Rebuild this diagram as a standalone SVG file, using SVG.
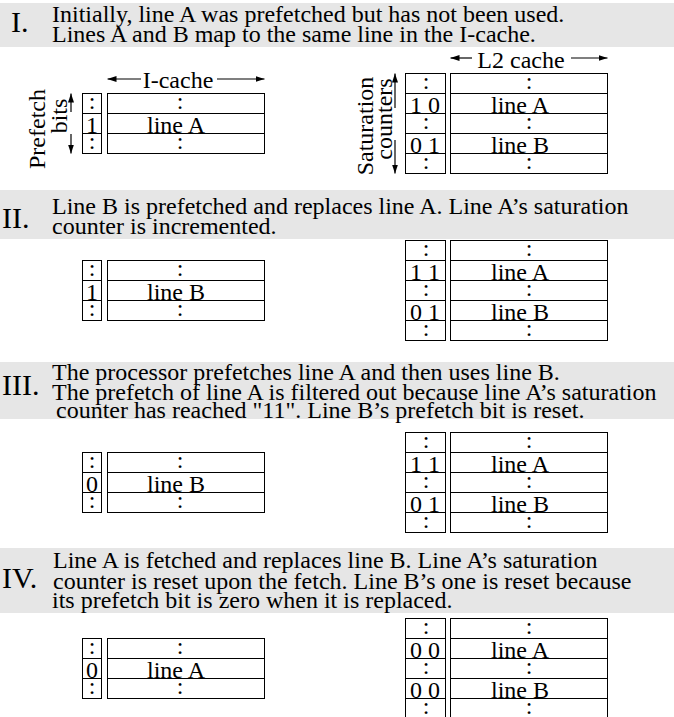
<svg xmlns="http://www.w3.org/2000/svg" width="674" height="717" viewBox="0 0 674 717">
<style>
text{font-family:"Liberation Serif","Times New Roman",serif;fill:#000}
.t{font-size:24px}
.n{font-size:30px}
.m{text-anchor:middle}
.band{fill:#e6e6e6}
.box{fill:none;stroke:#000;stroke-width:1}
.arr{fill:none;stroke:#000;stroke-width:1.2;marker-end:url(#ah)}
</style>
<defs>
<marker id="ah" markerUnits="userSpaceOnUse" markerWidth="9" markerHeight="6" refX="9" refY="3" orient="auto">
<path d="M0,0 L9,3 L0,6 z" fill="#000"/>
</marker>
<g id="ltab">
<rect class="box" x="82.5" y="0.5" width="19" height="60"/>
<path class="box" d="M82.5,20.5H101.5M82.5,40.5H101.5"/>
<rect class="box" x="107.5" y="0.5" width="157" height="60"/>
<path class="box" d="M107.5,20.5H264.5M107.5,40.5H264.5"/>
<text class="t m" x="92" y="16">:</text>
<text class="t m" x="92" y="56">:</text>
<text class="t m" x="180" y="16">:</text>
<text class="t m" x="180" y="56">:</text>
</g>
<g id="rtab">
<rect class="box" x="405.5" y="0.5" width="40" height="100"/>
<path class="box" d="M405.5,20.5H445.5M405.5,40.5H445.5M405.5,60.5H445.5M405.5,80.5H445.5"/>
<rect class="box" x="450.5" y="0.5" width="157" height="100"/>
<path class="box" d="M450.5,20.5H607.5M450.5,40.5H607.5M450.5,60.5H607.5M450.5,80.5H607.5"/>
<text class="t m" x="426" y="16">:</text>
<text class="t m" x="426" y="56">:</text>
<text class="t m" x="426" y="96">:</text>
<text class="t m" x="529" y="16">:</text>
<text class="t m" x="529" y="56">:</text>
<text class="t m" x="529" y="96">:</text>
<text class="t m" x="520" y="40">line A</text>
<text class="t m" x="520" y="80">line B</text>
</g>
</defs>

<g id="step1">
<rect class="band" x="0" y="3" width="674" height="44"/>
<text class="n" x="11" y="32">I.</text>
<text class="t" x="52" y="22">Initially, line A was prefetched but has not been used.</text>
<text class="t" x="52" y="42">Lines A and B map to the same line in the I-cache.</text>
<g id="icache1" transform="translate(0,93)">
<use href="#ltab"/>
<text class="t m" x="92" y="40">1</text>
<text class="t m" x="176" y="40">line A</text>
</g>
<g id="l2cache1" transform="translate(0,73)">
<use href="#rtab"/>
<text class="t m" x="425" y="40">1 0</text>
<text class="t m" x="425" y="80">0 1</text>
</g>
<text class="t m" x="178" y="88">I-cache</text>
<text class="t m" x="521" y="68">L2 cache</text>
<text class="t m" transform="translate(45,129) rotate(-90)">Prefetch</text>
<text class="t m" transform="translate(67,116) rotate(-90)">bits</text>
<text class="t m" transform="translate(373,126) rotate(-90)">Saturation</text>
<text class="t m" transform="translate(392,119) rotate(-90)">counters</text>
</g>

<g id="step2">
<rect class="band" x="0" y="190" width="674" height="49"/>
<text class="n" x="2" y="228">II.</text>
<text class="t" x="52" y="214">Line B is prefetched and replaces line A. Line A’s saturation</text>
<text class="t" x="52" y="234">counter is incremented.</text>
<g id="icache2" transform="translate(0,260)">
<use href="#ltab"/>
<text class="t m" x="92" y="40">1</text>
<text class="t m" x="176" y="40">line B</text>
</g>
<g id="l2cache2" transform="translate(0,240)">
<use href="#rtab"/>
<text class="t m" x="425" y="40">1 1</text>
<text class="t m" x="425" y="80">0 1</text>
</g>
</g>

<g id="step3">
<rect class="band" x="0" y="362" width="674" height="57"/>
<text class="n" x="2" y="395">III.</text>
<text class="t" x="52" y="380">The processor prefetches line A and then uses line B.</text>
<text class="t" x="52" y="400">The prefetch of line A is filtered out because line A’s saturation</text>
<text class="t" x="56" y="418">counter has reached "11". Line B’s prefetch bit is reset.</text>
<g id="icache3" transform="translate(0,452)">
<use href="#ltab"/>
<text class="t m" x="92" y="40">0</text>
<text class="t m" x="176" y="40">line B</text>
</g>
<g id="l2cache3" transform="translate(0,432)">
<use href="#rtab"/>
<text class="t m" x="425" y="40">1 1</text>
<text class="t m" x="425" y="80">0 1</text>
</g>
</g>

<g id="step4">
<rect class="band" x="0" y="548" width="674" height="65"/>
<text class="n" x="2" y="588">IV.</text>
<text class="t" x="53" y="568">Line A is fetched and replaces line B. Line A’s saturation</text>
<text class="t" x="53" y="589">counter is reset upon the fetch. Line B’s one is reset because</text>
<text class="t" x="52" y="608">its prefetch bit is zero when it is replaced.</text>
<g id="icache4" transform="translate(0,638)">
<use href="#ltab"/>
<text class="t m" x="92" y="40">0</text>
<text class="t m" x="176" y="40">line A</text>
</g>
<g id="l2cache4" transform="translate(0,618)">
<use href="#rtab"/>
<text class="t m" x="425" y="40">0 0</text>
<text class="t m" x="425" y="80">0 0</text>
</g>
</g>

<g id="connectors">
<line class="arr" x1="141" y1="79" x2="107.5" y2="79"/>
<line class="arr" x1="217" y1="79" x2="264.5" y2="79"/>
<line class="arr" x1="472" y1="58" x2="450.5" y2="58"/>
<line class="arr" x1="571" y1="58" x2="607.5" y2="58"/>
<line class="arr" x1="71" y1="112" x2="71" y2="93.5"/>
<line class="arr" x1="71" y1="134" x2="71" y2="153.5"/>
<line class="arr" x1="395" y1="108" x2="395" y2="73.5"/>
<line class="arr" x1="395" y1="140" x2="395" y2="173.5"/>
</g>
</svg>
